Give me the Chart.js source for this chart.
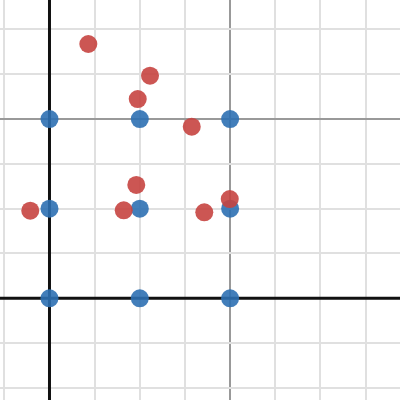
<!DOCTYPE html>
<html>
<head>
<meta charset="utf-8">
<script src="https://cdn.jsdelivr.net/npm/chart.js@4/dist/chart.umd.min.js"></script>
<style>
  html, body { margin: 0; padding: 0; background: #ffffff; }
  #c { display: block; }
</style>
</head>
<body>
<canvas id="c" width="400" height="400"></canvas>
<script>
// Series: blue lattice points
const blueX = [0, 1, 2, 0, 1, 2, 0, 1, 2];
const blueY = [0, 0, 0, 1, 1, 1, 2, 2, 2];
// Series: red scattered points
const redX = [0.430, 1.113, 0.977, 1.575, 0.961, -0.213, 0.822, 1.714, 1.996];
const redY = [2.838, 2.484, 2.224, 1.915, 1.265, 0.978, 0.982, 0.960, 1.108];
// Grid tick values
const xTicks = [-0.5, 0, 0.5, 1, 1.5, 2, 2.5, 3, 3.5];
const yTicks = [-1, -0.5, 0, 0.5, 1, 1.5, 2, 2.5, 3];

const toPts = (xs, ys) => xs.map((x, i) => ({ x: x, y: ys[i] }));

function gridColor(ctx) {
  const v = ctx.tick ? ctx.tick.value : null;
  if (v === null) return 'rgba(0,0,0,0)';
  if (Math.abs(v) < 1e-9) return 'rgba(0,0,0,0)';
  if (Math.abs(v / 2 - Math.round(v / 2)) < 1e-9) return '#999999';
  return '#e0e0e0';
}

const axisPlugin = {
  id: 'axisLines',
  beforeDatasetsDraw(chart) {
    const { ctx, chartArea, scales } = chart;
    const x0 = scales.x.getPixelForValue(0);
    const y0 = scales.y.getPixelForValue(0);
    ctx.save();
    ctx.strokeStyle = '#111111';
    ctx.lineWidth = 3;
    ctx.beginPath();
    ctx.moveTo(x0, chartArea.top);
    ctx.lineTo(x0, chartArea.bottom);
    ctx.moveTo(chartArea.left, y0);
    ctx.lineTo(chartArea.right, y0);
    ctx.stroke();
    ctx.restore();
  }
};

new Chart(document.getElementById('c'), {
  type: 'scatter',
  data: {
    datasets: [
      {
        data: toPts(redX, redY),
        backgroundColor: 'rgba(199,68,64,0.9)',
        borderWidth: 0,
        pointRadius: 9,
        pointHoverRadius: 9
      },
      {
        data: toPts(blueX, blueY),
        backgroundColor: 'rgba(45,112,179,0.9)',
        borderWidth: 0,
        pointRadius: 9,
        pointHoverRadius: 9
      }
    ]
  },
  options: {
    responsive: false,
    animation: false,
    events: [],
    layout: { padding: 0, autoPadding: false },
    plugins: { legend: { display: false }, tooltip: { enabled: false } },
    scales: {
      x: {
        type: 'linear',
        min: -0.548,
        max: 3.881,
        afterBuildTicks: (s) => { s.ticks = xTicks.map(v => ({ value: v })); },
        afterFit: (s) => { s.height = 0; },
        ticks: { display: false },
        border: { display: false },
        grid: { color: gridColor, lineWidth: 2, drawTicks: false }
      },
      y: {
        type: 'linear',
        min: -1.135,
        max: 3.329,
        afterBuildTicks: (s) => { s.ticks = yTicks.map(v => ({ value: v })); },
        afterFit: (s) => { s.width = 0; },
        ticks: { display: false },
        border: { display: false },
        grid: { color: gridColor, lineWidth: 2, drawTicks: false }
      }
    }
  },
  plugins: [axisPlugin]
});
</script>
</body>
</html>
